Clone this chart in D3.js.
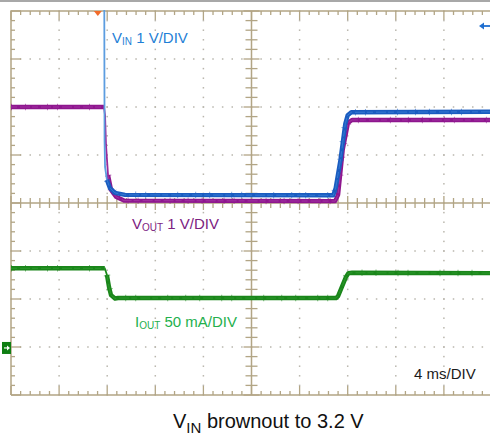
<!DOCTYPE html>
<html>
<head>
<meta charset="utf-8">
<script src="https://cdn.jsdelivr.net/npm/d3@7"></script>
<style>
  html, body { margin: 0; padding: 0; background: #fff; }
  svg { display: block; font-family: "Liberation Sans", Arial, sans-serif; }
</style>
</head>
<body>
<svg id="chart" width="490" height="435"></svg>
<script>
// ---------------- data ----------------
// time in ms (4 ms/DIV, 10 divisions)
const vinTime  = [0, 7.72, 7.78, 7.82, 7.98, 8.23, 8.65, 9.48, 26.8, 27.0, 27.4, 27.8, 28.0, 28.3, 40];
const vinVolts = [12, 12, 4.36, 3.80, 3.53, 3.36, 3.26, 3.22, 3.21, 3.36, 3.95, 4.70, 4.88, 4.94, 4.95];

const voutTime  = [0, 7.73, 7.82, 7.90, 8.07, 8.32, 8.73, 9.4, 26.95, 27.2, 27.58, 28.02, 28.36, 28.7, 40];
const voutVolts = [3.30, 3.30, 3.13, 2.51, 1.88, 1.57, 1.43, 1.35, 1.34, 1.47, 2.40, 2.97, 3.03, 3.03, 3.03];

const ioutTime = [0, 7.80, 7.98, 8.15, 8.32, 8.65, 8.90, 27.03, 27.2, 27.86, 28.07, 28.36, 40];
const ioutmA   = [83, 83, 76, 63.5, 55, 51.5, 52, 52, 54, 74, 78, 78.3, 78];

// channel settings: scale per division and ground offset (in divisions)
const vinPerDiv = 1,  vinOffsetDiv = -3.05;
const voutPerDiv = 1, voutOffsetDiv = -1.3;
const ioutPerDiv = 50, ioutOffsetDiv = -3.02;

const timeDomain = [0, 40];       // 10 divisions x 4 ms
const divDomain = [-4, 4];        // 8 vertical divisions

const labels = {
  vin:  ["V", "IN", " 1 V/DIV"],
  vout: ["V", "OUT", " 1 V/DIV"],
  iout: ["I", "OUT", " 50 mA/DIV"],
  time: "4 ms/DIV",
  title: ["V", "IN", " brownout to 3.2 V"]
};

// ---------------- drawing ----------------
const svg = d3.select("#chart");
const L = 11, T = 11, R = 492, B = 395;
const x = d3.scaleLinear().domain(timeDomain).range([L, R]);
const y = d3.scaleLinear().domain(divDomain).range([B, T]);

const gridCol = "#b2a585";
const dotCol = "#b9b6ad";

// top gray rule
svg.append("line").attr("x1", 0).attr("x2", 490).attr("y1", 1).attr("y2", 1)
  .attr("stroke", "#a8a8a8").attr("stroke-width", 2);

const g = svg.append("g");

const xMajors = d3.range(0, 11).map(i => timeDomain[0] + i * 4);
const yMajors = d3.range(-4, 5);
const xMinors = d3.range(0, 51).map(i => i * 0.8);
const yMinors = d3.range(0, 41).map(i => -4 + i * 0.2);

// dotted grid
xMajors.forEach(t => {
  if (t === 0 || t === 20 || t === 40) return;
  yMinors.forEach(d => {
    g.append("rect").attr("x", x(t) - 0.75).attr("y", y(d) - 0.75)
      .attr("width", 1.5).attr("height", 1.5).attr("fill", dotCol);
  });
});
yMajors.forEach(d => {
  if (d === 0 || d === 4 || d === -4) return;
  xMinors.forEach(t => {
    g.append("rect").attr("x", x(t) - 0.75).attr("y", y(d) - 0.75)
      .attr("width", 1.5).attr("height", 1.5).attr("fill", dotCol);
  });
});

// frame
g.append("path")
  .attr("d", `M${L},${B} L${L},${T} L${R},${T} M${L},${B} L${R},${B}`)
  .attr("fill", "none").attr("stroke", gridCol).attr("stroke-width", 1.5);

// center axes
g.append("line").attr("x1", L).attr("x2", R).attr("y1", y(0)).attr("y2", y(0))
  .attr("stroke", gridCol).attr("stroke-width", 1.5);
g.append("line").attr("x1", x(20)).attr("x2", x(20)).attr("y1", T).attr("y2", B)
  .attr("stroke", gridCol).attr("stroke-width", 1.5);

const isMajorT = t => Math.abs(t / 4 - Math.round(t / 4)) < 1e-6;
const isMajorD = d => Math.abs(d - Math.round(d)) < 1e-6;

xMinors.forEach(t => {
  const xx = x(t), maj = isMajorT(t);
  g.append("line").attr("x1", xx).attr("x2", xx).attr("y1", T).attr("y2", T + (maj ? 9 : 4))
    .attr("stroke", gridCol).attr("stroke-width", 1.3);
  g.append("line").attr("x1", xx).attr("x2", xx).attr("y1", B).attr("y2", B - (maj ? 9 : 4))
    .attr("stroke", gridCol).attr("stroke-width", 1.3);
  g.append("line").attr("x1", xx).attr("x2", xx).attr("y1", y(0) - (maj ? 7 : 5)).attr("y2", y(0) + (maj ? 7 : 5))
    .attr("stroke", gridCol).attr("stroke-width", 1.3);
});
yMinors.forEach(d => {
  const yy = y(d), maj = isMajorD(d);
  g.append("line").attr("x1", L).attr("x2", L + (maj ? 10 : 4)).attr("y1", yy).attr("y2", yy)
    .attr("stroke", gridCol).attr("stroke-width", 1.3);
  g.append("line").attr("x1", x(20) - (maj ? 8 : 6)).attr("x2", x(20) + (maj ? 8 : 6)).attr("y1", yy).attr("y2", yy)
    .attr("stroke", gridCol).attr("stroke-width", 1.3);
});

// clip
svg.append("clipPath").attr("id", "plotclip").append("rect")
  .attr("x", L).attr("y", T - 1).attr("width", 490 - L).attr("height", B - T + 2);

const traces = svg.append("g").attr("clip-path", "url(#plotclip)");

function series(times, vals, perDiv, offDiv) {
  return times.map((t, i) => ({ t, d: vals[i] / perDiv + offDiv }));
}
const line = d3.line().x(p => x(p.t)).y(p => y(p.d));

function drawTrace(pts, thinFrom, thinTo, thinCol, thickCol, coreCol) {
  traces.append("path").attr("d", line(pts)).attr("fill", "none")
    .attr("stroke", thinCol).attr("stroke-width", 1.8);
  const segs = [pts.filter(p => p.t <= thinFrom), pts.filter(p => p.t >= thinTo)];
  segs.forEach(s => {
    if (s.length < 2) return;
    traces.append("path").attr("d", line(s)).attr("fill", "none")
      .attr("stroke", thickCol).attr("stroke-width", 6.5)
      .attr("stroke-dasharray", "1,13,1,21,1,9,1,31,1,17").attr("opacity", 0.55);
    traces.append("path").attr("d", line(s)).attr("fill", "none")
      .attr("stroke", thickCol).attr("stroke-width", 4.4).attr("stroke-linejoin", "round");
    traces.append("path").attr("d", line(s)).attr("fill", "none")
      .attr("stroke", coreCol).attr("stroke-width", 1).attr("opacity", 0.55)
      .attr("stroke-dasharray", "6,3,10,2");
  });
}

const vinPts = series(vinTime, vinVolts, vinPerDiv, vinOffsetDiv);
const voutPts = series(voutTime, voutVolts, voutPerDiv, voutOffsetDiv);
const ioutPts = series(ioutTime, ioutmA, ioutPerDiv, ioutOffsetDiv);

drawTrace(voutPts, 7.75, 7.95, "#9a2a9a", "#8e168e", "#b04ab0");
drawTrace(vinPts, 7.70, 7.95, "#5c9de0", "#1a5cc0", "#4a8fe0");
drawTrace(ioutPts, 7.81, 7.95, "#1b8a1b", "#1a861a", "#3aa63a");

// markers
svg.append("path").attr("d", `M${x(7.22)-4},${T} L${x(7.22)+4},${T} L${x(7.22)},${T+5} Z`)
  .attr("fill", "#f26b2a");
svg.append("path").attr("d", "M479,26 L484,22.5 L484,29.5 Z").attr("fill", "#1f6fd0");
svg.append("line").attr("x1", 482).attr("x2", 490).attr("y1", 26).attr("y2", 26)
  .attr("stroke", "#1f6fd0").attr("stroke-width", 1.8);

const gy = y(0 + ioutOffsetDiv);
svg.append("rect").attr("x", 2).attr("y", gy - 6).attr("width", 9).attr("height", 12).attr("fill", "#0e7e12");
svg.append("line").attr("x1", 4).attr("x2", 8).attr("y1", gy).attr("y2", gy)
  .attr("stroke", "#fff").attr("stroke-width", 1.2);
svg.append("path").attr("d", `M10,${gy} L7,${gy-2.5} L7,${gy+2.5} Z`).attr("fill", "#fff");

// labels
function subLabel(parts, xx, yy, col, size, subSize, subDy) {
  const t = svg.append("text").attr("x", xx).attr("y", yy).attr("fill", col)
    .attr("font-size", size);
  t.append("tspan").text(parts[0]);
  t.append("tspan").attr("font-size", subSize).attr("dy", subDy).text(parts[1]);
  t.append("tspan").attr("dy", -subDy).text(parts[2]);
  return t;
}
subLabel(labels.vin, 112, 42.5, "#1f7fd6", 15, 10, 2);
subLabel(labels.vout, 132, 228.5, "#7c2181", 15, 10, 2);
subLabel(labels.iout, 135, 327, "#24b04c", 15, 10, 2);
svg.append("text").attr("x", 414).attr("y", 378.5).attr("fill", "#1a1a1a").attr("font-size", 15)
  .text(labels.time);
subLabel(labels.title, 173, 427.5, "#111", 20, 15, 5);
</script>
</body>
</html>
